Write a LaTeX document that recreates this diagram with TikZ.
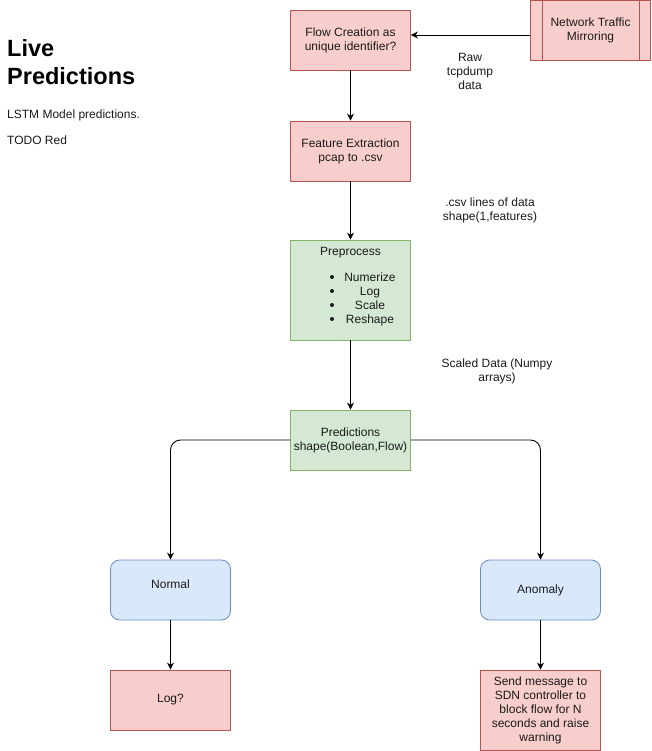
\documentclass[tikz,border=0pt]{standalone}
\usepackage{fontspec}
\setmainfont{Liberation Sans}
\usetikzlibrary{arrows.meta,calc}
\definecolor{redfill}{HTML}{F8CECC}
\definecolor{redline}{HTML}{B85450}
\definecolor{greenfill}{HTML}{D5E8D4}
\definecolor{greenline}{HTML}{82B366}
\definecolor{bluefill}{HTML}{DAE8FC}
\definecolor{blueline}{HTML}{6C8EBF}
\definecolor{txt}{HTML}{1A1A1A}
\tikzset{
  x=1pt, y=-1pt,
  base/.style={font=\fontsize{12}{14}\selectfont, text=txt, align=center, inner sep=0pt, line width=0.8pt},
  redbox/.style={base, draw=redline, fill=redfill, minimum width=120pt, minimum height=60pt},
  greenbox/.style={base, draw=greenline, fill=greenfill, minimum width=120pt, minimum height=60pt},
  bluebox/.style={base, draw=blueline, fill=bluefill, minimum width=120pt, minimum height=60pt, rounded corners=9pt},
  lbl/.style={base},
  arr/.style={-{Stealth[length=7pt,width=7pt]}, line width=0.9pt, black, rounded corners=10pt},
}
\begin{document}
\begin{tikzpicture}
\useasboundingbox (0,0) rectangle (651,751);

% title
\node[anchor=base west, inner sep=0pt, font=\fontsize{23.5}{28}\selectfont\bfseries] (t1) at (7,57) {Live};
\node[anchor=base west, inner sep=0pt, font=\fontsize{23.5}{28}\selectfont\bfseries] (t2) at (7,85) {Predictions};
\node[anchor=base west, inner sep=0pt, font=\fontsize{12}{14}\selectfont, text=txt] (t3) at (7,119) {LSTM Model predictions.};
\node[anchor=base west, inner sep=0pt, font=\fontsize{12}{14}\selectfont, text=txt] (t4) at (7,145) {TODO Red};

% boxes
\node[redbox] (flow) at (350.5,40) {Flow Creation as\\unique identifier?};
\node[redbox, minimum height=59.5pt] (net) at (590.5,30.25) {Network Traffic\\Mirroring};
\draw[redline, line width=0.8pt] ([xshift=12pt]net.north west) -- ([xshift=12pt]net.south west);
\draw[redline, line width=0.8pt] ([xshift=-12pt]net.north east) -- ([xshift=-12pt]net.south east);
\node[redbox] (feat) at (350.5,151) {Feature Extraction\\pcap to .csv};
\node[greenbox, minimum height=100pt] (pre) at (350.5,290) {};
\node[base, anchor=base] (pretitle) at (350.5,255) {Preprocess};
\foreach \y/\t [count=\i] in {281/Numerize,295/Log,309/Scale,323/Reshape}{
  \node[base, anchor=base] (item\i) at (370,\y) {\t};
  \fill[txt] (332,\y-4) circle (2pt);
}
\node[greenbox] (pred) at (350.5,440) {Predictions\\shape(Boolean,Flow)};
\node[bluebox] (normal) at (170.5,590) {};
\node[base, anchor=base] (normaltext) at (170.5,588) {Normal};
\node[bluebox] (anom) at (540.5,590) {Anomaly};
\node[redbox] (log) at (170.5,700) {Log?};
\node[redbox, minimum height=80pt] (send) at (540.5,710) {Send message to\\SDN controller to\\block flow for N\\seconds and raise\\warning};

% labels
\node[lbl] (raw) at (470,71) {Raw\\tcpdump\\data};
\node[lbl] (csv) at (490,210) {.csv lines of data\\shape(1,features)};
\node[lbl] (scaled) at (497,371) {Scaled Data (Numpy\\arrays)};

% connectors
\draw[arr] (net.west |- 0,35) -- (flow.east |- 0,35);
\draw[arr] (flow) -- (feat);
\draw[arr] (feat) -- (pre);
\draw[arr] (pre) -- (pred);
\draw[arr] (pred.west |- 0,440) -| (normal.north);
\draw[arr] (pred.east |- 0,440) -| (anom.north);
\draw[arr] (normal) -- (log);
\draw[arr] (anom) -- (send);
\end{tikzpicture}
\end{document}
